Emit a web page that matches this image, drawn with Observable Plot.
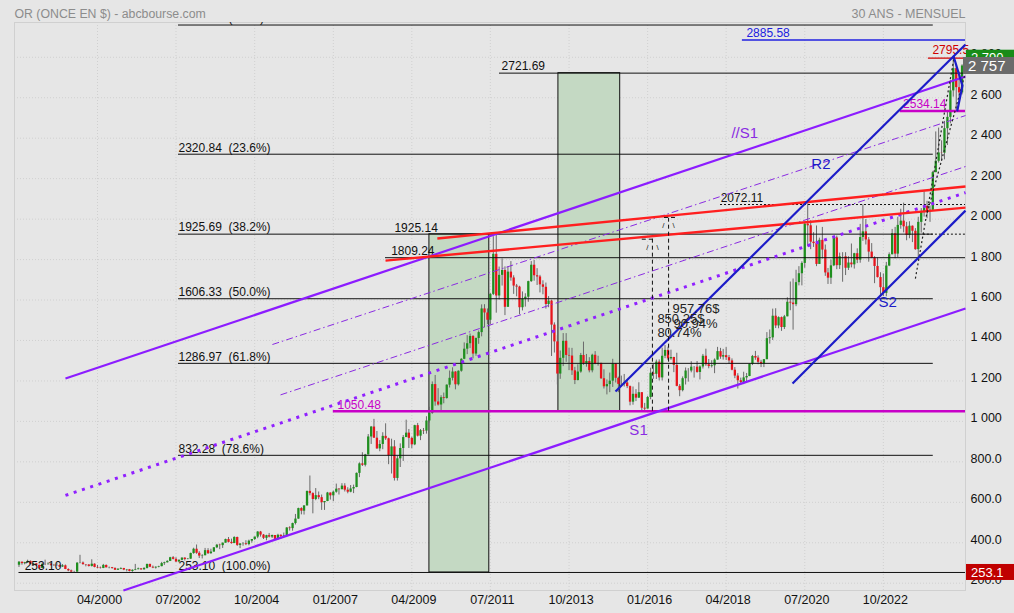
<!DOCTYPE html>
<html><head><meta charset="utf-8">
<script src="https://cdn.jsdelivr.net/npm/d3@7"></script>
<script src="https://cdn.jsdelivr.net/npm/@observablehq/plot@0.6"></script>
<style>html,body{margin:0;padding:0;background:#e6e6e6;overflow:hidden}</style>
</head><body><div id="chart"></div>
<script>
// ---- monthly gold candles, Jan 1998 .. Jan 2025 (open = previous close)
const firstYear = 1998;
const firstOpen = 289;
const closes = [
304,297,301,308,293,296,288,273,293,292,294,288,
287,287,280,286,268,261,255,255,299,300,292,290,
283,294,278,275,273,288,276,277,273,264,269,273,
265,267,258,264,267,271,266,273,293,279,275,279,
282,297,301,308,326,318,305,313,324,317,319,347,
368,348,334,336,361,346,354,375,388,386,398,416,
402,396,426,387,394,395,391,408,416,428,453,438,
422,435,428,436,417,437,430,434,473,470,495,517,
569,556,582,654,643,614,633,623,598,604,646,632,
650,665,662,680,660,650,666,673,743,790,783,834,
923,972,917,864,886,926,914,830,874,718,815,866,
920,942,916,884,979,927,954,952,1002,1040,1182,1096,
1081,1117,1113,1179,1213,1244,1181,1248,1307,1357,1384,1420,
1333,1410,1439,1556,1536,1500,1628,1826,1620,1722,1746,1564,
1738,1709,1669,1664,1562,1604,1614,1691,1772,1720,1714,1675,
1663,1578,1595,1476,1393,1234,1312,1396,1326,1323,1250,1202,
1244,1326,1284,1296,1250,1327,1282,1287,1211,1171,1182,1199,
1283,1213,1183,1183,1190,1172,1095,1134,1115,1142,1065,1061,
1118,1238,1233,1293,1215,1322,1351,1309,1316,1277,1173,1152,
1211,1249,1249,1268,1268,1242,1269,1322,1280,1271,1275,1303,
1345,1318,1325,1315,1299,1253,1224,1201,1192,1215,1222,1282,
1321,1313,1292,1283,1305,1409,1413,1520,1472,1513,1464,1517,
1589,1585,1577,1686,1730,1781,1975,1967,1886,1879,1776,1895,
1847,1734,1708,1769,1907,1770,1814,1814,1757,1783,1774,1829,
1797,1909,1937,1897,1837,1807,1766,1711,1661,1633,1768,1824,
1928,1827,1969,1990,1962,1919,1965,1940,1849,1984,2036,2063,
2039,2044,2230,2286,2327,2326,2447,2503,2634,2744,2650,2624,
2757];
const highs = [
307,304,303,314,310,298,298,290,300,314,301,297,
293,297,290,292,290,271,265,259,302,338,305,292,
292,316,296,288,280,293,290,280,278,276,272,276,
273,268,268,266,293,275,272,277,294,294,285,281,
284,303,304,311,328,332,326,316,326,326,322,349,
373,389,356,341,372,371,368,376,392,393,399,418,
426,418,430,428,396,401,410,413,416,428,455,456,
441,437,446,438,436,442,439,448,475,479,497,540,
571,573,584,655,730,647,668,651,636,604,649,646,
655,690,668,692,692,672,683,685,745,795,845,837,
935,975,1010,950,905,944,988,917,912,905,828,889,
930,1006,960,922,981,990,960,965,1023,1070,1195,1227,
1162,1127,1140,1181,1249,1265,1246,1250,1310,1388,1424,1432,
1424,1412,1447,1576,1577,1556,1632,1913,1921,1763,1803,1764,
1764,1790,1720,1677,1668,1640,1631,1693,1790,1796,1755,1722,
1695,1684,1617,1599,1487,1424,1348,1434,1434,1362,1361,1267,
1280,1336,1392,1331,1315,1332,1345,1322,1287,1255,1205,1239,
1307,1286,1219,1224,1232,1205,1175,1170,1157,1191,1142,1089,
1124,1263,1282,1303,1304,1362,1375,1367,1352,1317,1337,1182,
1220,1264,1261,1295,1271,1296,1275,1331,1357,1306,1300,1309,
1366,1361,1356,1365,1326,1309,1266,1236,1214,1243,1237,1284,
1326,1346,1324,1302,1306,1439,1452,1555,1557,1517,1516,1524,
1611,1689,1704,1747,1765,1789,1984,2075,1992,1933,1966,1906,
1959,1872,1756,1798,1913,1916,1832,1834,1834,1814,1877,1831,
1853,1974,2070,1998,1909,1879,1814,1808,1735,1729,1786,1833,
1949,1959,2009,2049,2079,1984,1987,1966,1953,2009,2052,2135,
2088,2065,2236,2431,2450,2387,2483,2531,2685,2795,2761,2726,
2763];
const lows = [
278,289,291,298,291,286,286,271,272,287,289,284,
283,283,278,278,267,257,253.5,253.1,254,296,289,281,
280,280,276,272,270,272,276,271,269,264,263,267,
262,256,256,254,262,266,264,265,270,277,272,270,
276,281,288,300,307,315,302,301,311,310,316,318,
343,343,322,320,335,342,343,353,371,366,372,398,
399,393,396,382,371,383,386,385,398,411,420,428,
416,410,424,421,414,412,417,429,433,458,457,488,
516,538,537,582,632,543,608,613,560,560,603,611,
603,645,636,663,651,642,647,643,672,722,777,775,
834,886,916,862,850,860,906,786,740,705,705,772,
802,920,866,865,880,923,905,935,937,992,1035,1075,
1076,1045,1087,1110,1165,1200,1156,1175,1243,1305,1330,1360,
1309,1322,1381,1418,1462,1478,1478,1622,1535,1600,1669,1523,
1564,1693,1628,1616,1527,1546,1565,1589,1687,1693,1672,1635,
1626,1555,1562,1321,1338,1180,1208,1271,1292,1251,1227,1182,
1200,1238,1277,1268,1240,1240,1280,1273,1207,1160,1131,1142,
1168,1190,1142,1170,1170,1162,1077,1080,1098,1113,1053,1046,
1061,1107,1208,1207,1200,1200,1310,1301,1302,1241,1171,1122,
1146,1180,1194,1240,1214,1238,1205,1259,1272,1260,1264,1236,
1303,1307,1303,1301,1282,1250,1211,1160,1180,1182,1196,1221,
1276,1302,1280,1266,1266,1305,1382,1400,1459,1458,1445,1454,
1517,1547,1451,1567,1670,1670,1757,1863,1849,1860,1765,1776,
1803,1717,1677,1677,1765,1750,1751,1688,1721,1746,1759,1753,
1780,1782,1890,1872,1787,1805,1681,1709,1615,1617,1616,1765,
1823,1804,1809,1950,1932,1893,1903,1884,1846,1810,1931,2010,
2002,1984,2039,2229,2277,2286,2293,2364,2471,2603,2534,2583,
2614];

// ---- axes
const xDomain = ["1997-11-15", "2025-02-06"];
const yDomain = [164, 2972];
const xTicks = ["2000-04-01","2002-07-01","2004-10-01","2007-01-01","2009-04-01","2011-07-01","2013-10-01","2016-01-01","2018-04-01","2020-07-01","2022-10-01"];
const yTicks = [200,400,600,800,1000,1200,1400,1600,1800,2000,2200,2400,2600,2800];

// ---- Fibonacci retracement
const fibValues = [2959.56, 2320.84, 1925.69, 1606.33, 1286.97, 832.28, 253.10];
const fibPcts = ["0.0%","23.6%","38.2%","50.0%","61.8%","78.6%","100.0%"];
const fibFrom = "2002-07-27", fibTo = "2024-03-06";

// ---- horizontal levels
const blackLevels = [2721.69, 1809.24];
const blackFrom = ["2011-10-05", "2008-06-30"];
const dottedLevels = [2072.11, 1925.69];
const dottedFrom = ["2018-02-01", "2023-11-24"];
const magentaLevels = [1050.48, 2534.14];
const magentaFrom = ["2007-01-01", "2023-03-27"];
const blueLevel = 2885.58, blueFrom = "2018-09-18";
const redLevel = 2795.5, redFrom = "2024-01-15";

// level labels
const levelLabels = ["2721.69","1809.24","1925.14","2072.11","253.10"];
const levelLabelDates = ["2011-10-27","2008-08-28","2008-10-01","2018-02-03","1998-03-01"];
const levelLabelValues = [2721.69,1809.24,1925.14,2072.11,253.10];

// ---- shaded zones
const zoneFrom = ["2009-10-02","2013-06-12"], zoneTo = ["2011-06-20","2015-03-20"];
const zoneLow = [253.1, 1050.48], zoneHigh = [1925.14, 2721.69];

// ---- trend lines [date1, price1, date2, price2]
const purpleSolid = [["1999-05-02",1212,"2025-02-06",2705],["2000-12-28",164,"2025-02-06",1558]];
const purpleDashDot = [["2005-04-04",1380,"2025-02-06",2512],["2005-06-28",1131,"2025-02-06",2260]];
const purpleDotted = [["1999-05-02",634,"2025-02-06",2131]];
const redLines = [["2009-12-24",1904,"2025-02-06",2161],["2008-06-30",1795,"2025-02-06",2057]];
const blueLines = [["2015-01-30",1148,"2025-02-06",2863],["2020-02-24",1187,"2025-02-06",2042]];
const bluePathDates = ["2024-10-05","2025-01-05","2024-11-13"], bluePathPrices = [2804,2660,2537];
const blackDotted = [["2023-09-01",1706,"2024-10-10",2800],["2024-01-04",2032,"2025-02-06",2725]];

// ---- gain measures
const gainDates = ["2016-02-20","2016-08-07"], gainBase = 1050.48, gainTops = [1900.73, 2008.24];
const gainTicks = [["2015-11-06","2016-03-20"],["2016-06-25","2016-11-17"]];
const gainLabels = ["957.76$","850.25$","90.94%","80.74%"];
const gainLabelDates = ["2016-09-17","2016-04-12","2016-09-27","2016-04-12"];
const gainLabelPrices = [1558,1506,1484,1437];

// ---- channel names
const names = ["//S1","R2","S1","S2"];
const nameDates = ["2018-05-26","2020-09-08","2015-06-24","2022-08-10"];
const namePrices = [2423,2270,955,1588];
const nameColors = ["#8a2be2","#1c1cc8","#8a2be2","#1c1cc8"];

// ---- price boxes
const lastPrice = 2757, highPrice = 2795.5, lowPrice = 253.1;

// ================= build
const D = s => new Date(s);
const candles = closes.map((c, i) => ({
  date: new Date(Date.UTC(firstYear, i, 1)),
  open: i ? closes[i - 1] : firstOpen, close: c, high: highs[i], low: lows[i]
}));
const fibs = fibValues.map((v, i) => ({v, pct: fibPcts[i],
  from: D(i === 6 ? "1998-01-01" : fibFrom), to: D(i === 6 ? xDomain[1] : fibTo)}));
const segs = a => a.map(([d1, p1, d2, p2]) => ({x1: D(d1), y1: p1, x2: D(d2), y2: p2}));
const lv = (vals, froms) => vals.map((v, i) => ({v, from: D(froms[i]), to: D(xDomain[1])}));
const fmtY = v => v >= 1000 ? `${Math.floor(v / 1000)} ${String(v % 1000).padStart(3, "0")}` : v.toFixed(1);
const fmtX = d3.utcFormat("%m/%Y");
const up = "#1f8f1f", down = "#e8141c";

const chart = Plot.plot({
  width: 1014, height: 613,
  marginTop: 22, marginRight: 49, marginBottom: 23, marginLeft: 14,
  style: {background: "#e6e6e6", fontFamily: "'Liberation Sans', Arial, sans-serif", fontSize: "12px", overflow: "visible"},
  x: {type: "utc", domain: xDomain.map(D), axis: null},
  y: {domain: yDomain, axis: null},
  marks: [
    Plot.ruleY(yTicks, {stroke: "#d0d0d0", strokeDasharray: "1,2"}),
    Plot.ruleX(xTicks.map(D), {stroke: "#d0d0d0", strokeDasharray: "1,2"}),
    Plot.frame({stroke: "#d0d0d0"}),
    Plot.rect(zoneFrom.map((f, i) => ({x1: D(f), x2: D(zoneTo[i]), y1: zoneLow[i], y2: zoneHigh[i]})),
      {x1: "x1", x2: "x2", y1: "y1", y2: "y2", fill: "#c4d9c3", stroke: "#111", strokeWidth: 1}),
    // candles
    Plot.ruleX(candles, {x: "date", y1: "low", y2: "high", stroke: "#6a6a6a", strokeWidth: 1}),
    Plot.ruleX(candles, {x: "date", y1: "open", y2: "close", stroke: d => d.close >= d.open ? up : down, strokeWidth: 2.3}),
    // fib & levels
    Plot.ruleY(fibs, {y: "v", x1: "from", x2: "to", stroke: "#111", strokeWidth: 1}),
    Plot.text(fibs, {x: d => D(fibFrom), y: "v", text: d => `${d.v.toFixed(2)}\u00a0 (${d.pct})`, textAnchor: "start", dy: -6.5, fill: "#111", clip: true}),
    Plot.ruleY(lv(blackLevels, blackFrom), {y: "v", x1: "from", x2: "to", stroke: "#111"}),
    Plot.ruleY(lv(dottedLevels, dottedFrom), {y: "v", x1: "from", x2: "to", stroke: "#111", strokeDasharray: "2,2"}),
    Plot.ruleY(lv(magentaLevels, magentaFrom), {y: "v", x1: "from", x2: "to", stroke: "#c800c8", strokeWidth: 2.5}),
    Plot.ruleY(lv([blueLevel], [blueFrom]), {y: "v", x1: "from", x2: "to", stroke: "#2020e0", strokeWidth: 1.3}),
    Plot.ruleY(lv([redLevel], [redFrom]), {y: "v", x1: "from", x2: "to", stroke: "#d00000", strokeWidth: 1.3}),
    Plot.text(levelLabels, {x: (d, i) => D(levelLabelDates[i]), y: (d, i) => levelLabelValues[i], text: d => d, textAnchor: "start", dy: -6.5, fill: "#111"}),
    Plot.text(magentaLevels, {x: (d, i) => D(["2007-02-14", "2023-04-25"][i]), y: d => d, text: d => d.toFixed(2), textAnchor: "start", dy: -6.5, fill: "#c800c8"}),
    Plot.text([blueLevel], {x: D("2018-10-30"), y: d => d, text: d => d.toFixed(2), textAnchor: "start", dy: -6.5, fill: "#2020e0"}),
    Plot.text([redLevel], {x: D("2024-02-26"), y: d => d, text: d => d.toFixed(1), textAnchor: "start", dy: -8, fill: "#d00000"}),
    // trend lines
    Plot.link(segs(purpleDashDot), {x1: "x1", y1: "y1", x2: "x2", y2: "y2", stroke: "#8a2be2", strokeWidth: 1, strokeDasharray: "7,3,1.5,3"}),
    Plot.link(segs(purpleDotted), {x1: "x1", y1: "y1", x2: "x2", y2: "y2", stroke: "#9020ff", strokeWidth: 3, strokeDasharray: "3,5.7"}),
    Plot.link(segs(purpleSolid), {x1: "x1", y1: "y1", x2: "x2", y2: "y2", stroke: "#8c1cff", strokeWidth: 2.2}),
    Plot.link(segs(redLines), {x1: "x1", y1: "y1", x2: "x2", y2: "y2", stroke: "#ff1f1f", strokeWidth: 2.4}),
    Plot.link(segs(blackDotted), {x1: "x1", y1: "y1", x2: "x2", y2: "y2", stroke: "#222", strokeWidth: 1.2, strokeDasharray: "2,2.5"}),
    Plot.link(segs(blueLines), {x1: "x1", y1: "y1", x2: "x2", y2: "y2", stroke: "#1c1cc8", strokeWidth: 2.2}),
    Plot.line(bluePathDates.map((d, i) => ({x: D(d), y: bluePathPrices[i]})), {x: "x", y: "y", stroke: "#1c1cc8", strokeWidth: 2.2}),
    // gain measures
    Plot.ruleX(gainDates.map((d, i) => ({x: D(d), y1: gainBase, y2: gainTops[i]})), {x: "x", y1: "y1", y2: "y2", stroke: "#111", strokeDasharray: "4,3"}),
    Plot.ruleY(gainTicks.map((t, i) => ({x1: D(t[0]), x2: D(t[1]), y: gainTops[i]})), {y: "y", x1: "x1", x2: "x2", stroke: "#111", strokeDasharray: "4,3"}),
    Plot.text(gainDates.map((d, i) => ({x: D(d), y: gainTops[i]})), {x: "x", y: "y", text: () => "/\u2002\u2002\\", dy: 8, fontSize: 8, fill: "#222"}),
    Plot.text(gainLabels, {x: (d, i) => D(gainLabelDates[i]), y: (d, i) => gainLabelPrices[i], text: d => d, textAnchor: "start", fill: "#222", fontSize: 13}),
    // channel names
    Plot.text(names, {x: (d, i) => D(nameDates[i]), y: (d, i) => namePrices[i], text: d => d, textAnchor: "start", fill: (d, i) => nameColors[i], fontSize: 15}),
    // axis labels
    Plot.text(yTicks, {y: d => d, frameAnchor: "right", dx: 5, dy: -3, textAnchor: "start", text: fmtY, fill: "#111", fontSize: 12.5}),
    Plot.text(xTicks.map(D), {x: d => d, frameAnchor: "bottom", dy: 13, dx: 2, text: fmtX, fill: "#111", fontSize: 12.5}),
    // titles
    Plot.text(["OR (ONCE EN $) - abcbourse.com"], {frameAnchor: "top-left", dy: -13, textAnchor: "start", text: d => d, fill: "#8c8c8c", fontSize: 12.3}),
    Plot.text(["30 ANS - MENSUEL"], {frameAnchor: "top-right", dy: -13, textAnchor: "end", text: d => d, fill: "#8c8c8c", fontSize: 12.5})
  ]
});
document.getElementById("chart").appendChild(chart);

// price boxes in the right margin, placed through Plot's y scale
const svg = d3.select(chart);
const sy = chart.scale("y");
const xRight = chart.scale("x").range[1];
function box(price, fill, label, size, x0, h) {
  const cy = sy.apply(price);
  svg.append("rect").attr("x", x0).attr("y", cy - h / 2).attr("width", 1014 - x0).attr("height", h).attr("fill", fill);
  svg.append("text").attr("x", x0 + 5).attr("y", cy).attr("dy", "0.36em").attr("fill", "#fff")
    .attr("text-anchor", "start").attr("font-size", size)
    .attr("font-family", "'Liberation Sans', Arial, sans-serif").text(label);
}
box(highPrice, "#188c18", fmtY(2790), 13, xRight + 1, 16);
box(lastPrice, "#6b6b6b", fmtY(lastPrice), 15, xRight - 2, 17);
box(lowPrice, "#c00000", lowPrice.toFixed(1), 13, xRight + 1, 16);
</script></body></html>
